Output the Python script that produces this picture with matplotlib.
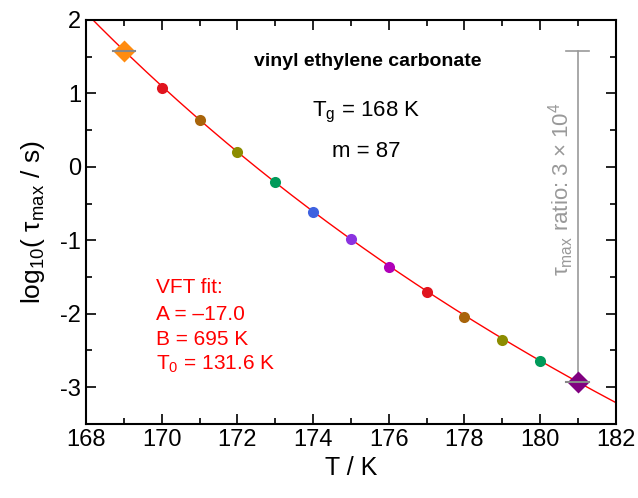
import numpy as np
import matplotlib
matplotlib.use('Agg')
import matplotlib.pyplot as plt
from matplotlib.ticker import MultipleLocator

plt.rcParams['font.family'] = ['Liberation Sans', 'DejaVu Sans']
plt.rcParams['mathtext.fontset'] = 'custom'
plt.rcParams['mathtext.rm'] = 'Liberation Sans'
plt.rcParams['mathtext.it'] = 'Liberation Sans:italic'
plt.rcParams['mathtext.bf'] = 'Liberation Sans:bold'

# measured relaxation times
T = [170, 171, 172, 173, 174, 175, 176, 177, 178, 179, 180]
log_tau = [1.07, 0.64, 0.20, -0.21, -0.62, -0.99, -1.36, -1.71, -2.04, -2.36, -2.65]
colors = ['#E0141E', '#A8640A', '#8C8C00', '#009A5A', '#3F62E0', '#8A33E0',
          '#B000B8', '#E0141E', '#A8640A', '#8C8C00', '#009A5A']

# end points (diamonds)
T_end = [169, 181]
log_tau_end = [1.57, -2.93]
colors_end = ['#FF8C10', '#800080']

# VFT fit parameters
A, B, T0 = -17.0, 695.0, 131.6
fit_lines = ['VFT fit:', 'A = \u201317.0', 'B = 695 K', r'T$_0$ = 131.6 K']

fig = plt.figure(figsize=(6.38, 4.98), dpi=100)
ax = fig.add_axes([0.135, 0.149, 0.83, 0.811])

Tf = np.linspace(168, 182, 300)
ax.plot(Tf, A + B / (Tf - T0), color='red', lw=1.0, zorder=2)

for t, v, c in zip(T, log_tau, colors):
    ax.plot(t, v, 'o', ms=8, color=c, mec='none', zorder=4)

# ratio bar at 181 from the 169 value down to the 181 value
gray = '#999999'
ax.plot([T_end[1], T_end[1]], log_tau_end, color=gray, lw=1.2, zorder=3)
ax.plot([T_end[1] - 0.3, T_end[1] + 0.3], [log_tau_end[0]] * 2, color=gray, lw=1.2, zorder=3)

for t, v, c in zip(T_end, log_tau_end, colors_end):
    ax.plot(t, v, 'D', ms=11, color=c, mec='none', zorder=4)
    ax.plot([t - 0.3, t + 0.3], [v, v], color='#888888', lw=1.5, zorder=5)

ax.set_xlim(168, 182)
ax.set_ylim(-3.5, 2)
ax.xaxis.set_major_locator(MultipleLocator(2))
ax.xaxis.set_minor_locator(MultipleLocator(1))
ax.yaxis.set_major_locator(MultipleLocator(1))
ax.yaxis.set_minor_locator(MultipleLocator(0.5))
ax.tick_params(which='both', direction='in', top=True, right=True, width=1.2, labelsize=17)
ax.tick_params(which='major', length=7)
ax.tick_params(which='minor', length=4)
ax.set_yticks([-3, -2, -1, 0, 1, 2])
ax.set_yticklabels(['-3', '-2', '-1', '0', '1', '2'])
for s in ax.spines.values():
    s.set_linewidth(1.5)

ax.set_xlabel('T / K', fontsize=18, labelpad=4)
ax.set_ylabel('log$_{10}$( \u03c4$_{\\rm max}$ / s)', fontsize=19, labelpad=10)

ax.text(175.45, 1.43, 'vinyl ethylene carbonate', fontsize=14, fontweight='bold',
        ha='center', va='center')
ax.text(175.4, 0.69, r'T$_{\rm g}$ = 168 K', fontsize=16, ha='center', va='baseline')
ax.text(175.4, 0.135, 'm = 87', fontsize=16, ha='center', va='baseline')

for line, yv in zip(fit_lines, [-1.72, -2.09, -2.43, -2.77]):
    ax.text(169.85, yv, line, fontsize=15, color='red', ha='left', va='baseline')

ax.text(180.55, -0.3, '\u03c4$_{\\rm max}$ ratio: 3 \u00d7 10$^4$', fontsize=16,
        color=gray, rotation=90, ha='center', va='center')

fig.savefig('out.png', dpi=100)
